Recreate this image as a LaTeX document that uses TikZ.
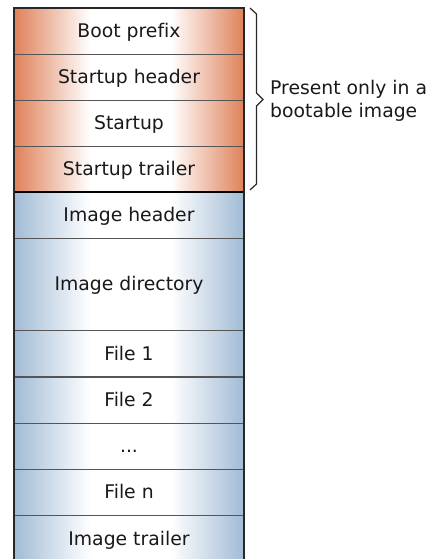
\documentclass[tikz,border=0pt]{standalone}
\usepackage{fontspec}
\setmainfont[Ligatures=NoCommon]{DejaVu Sans}

\definecolor{bandorange}{RGB}{223,129,89}
\definecolor{bandblue}{RGB}{161,187,213}
\definecolor{rule}{RGB}{40,40,40}
\definecolor{seprule}{RGB}{85,85,85}

% Band shadings: edge colour, white middle, edge colour
\pgfdeclarehorizontalshading{orangeband}{100bp}{color(0bp)=(bandorange); color(25bp)=(bandorange); color(41.5bp)=(white); color(59bp)=(white); color(75bp)=(bandorange); color(100bp)=(bandorange)}
\pgfdeclarehorizontalshading{blueband}{100bp}{color(0bp)=(bandblue); color(25bp)=(bandblue); color(41.5bp)=(white); color(59bp)=(white); color(75bp)=(bandblue); color(100bp)=(bandblue)}

\tikzset{
  layer/.style={inner sep=0pt, minimum width=230pt, text height=13pt, text depth=0pt, text=black!90},
  bootlayer/.style={layer, shading=orangeband, minimum height=#1},
  imagelayer/.style={layer, shading=blueband, minimum height=#1},
  note/.style={anchor=base west, inner sep=0pt, text=black!90},
}

\begin{document}
\begin{tikzpicture}[x=1pt, y=-1pt, font=\fontsize{18.8}{22.3}\selectfont]
\useasboundingbox (0,0) rectangle (435,559);

% Boot section
\node[bootlayer=46pt] (bootprefix)  at (129,31)  {Boot prefix};
\node[bootlayer=46pt] (startuphdr)  at (129,77)  {Startup header};
\node[bootlayer=46pt] (startup)     at (129,123) {Startup};
\node[bootlayer=46pt] (startuptrl)  at (129,169) {Startup trailer};

% Image section
\node[imagelayer=46.2pt] (imagehdr) at (129,215.1) {Image header};
\node[imagelayer=92.4pt] (imagedir) at (129,284.4) {Image directory};
\node[imagelayer=46.2pt] (file1)    at (129,353.7) {File 1};
\node[imagelayer=46.2pt] (file2)    at (129,399.9) {File 2};
\node[imagelayer=46.2pt] (filedots) at (129,446.1) {...};
\node[imagelayer=46.2pt] (filen)    at (129,492.3) {File n};
\node[imagelayer=46.2pt] (imagetrl) at (129,538.5) {Image trailer};

% Separators
\foreach \n in {bootprefix,startuphdr,startup}
  \draw[seprule, line width=1pt] (\n.south west) -- (\n.south east);
\draw[black, line width=2pt] (startuptrl.south west) -- (startuptrl.south east);
\foreach \n in {imagehdr,imagedir,file1,file2,filedots,filen}
  \draw[seprule, line width=1.2pt] (\n.south west) -- (\n.south east);

% Outer frame
\draw[rule, line width=1.5pt] (imagetrl.south west) -- (bootprefix.north west)
  -- (bootprefix.north east) -- (imagetrl.south east);

% Brace over the boot section
\coordinate (bracetop) at (250,8);
\coordinate (bracebot) at (250,190);
\coordinate (bracetip) at (263,99.5);
\draw[rule, line width=1.2pt, line join=miter]
  (bracetop) -- (256.5,14) -- (256.5,93) -- (bracetip)
  -- (256.5,106) -- (256.5,184) -- (bracebot);

\node[note] (note1) at (270,95)    {Present only in a};
\node[note] (note2) at (270,117.3) {bootable image};
\end{tikzpicture}
\end{document}
